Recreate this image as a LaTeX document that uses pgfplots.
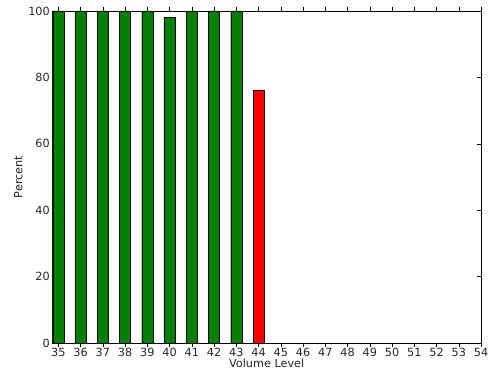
\documentclass[border=0pt]{standalone}
\usepackage{fontspec}
\setmainfont{DejaVu Sans}
\usepackage{pgfplots}
\pgfplotsset{compat=1.18}
\definecolor{mgreen}{rgb}{0,0.5,0}
\begin{document}
\begin{tikzpicture}
\path[use as bounding box] (0,0) rectangle (489bp,371bp);
\begin{axis}[
  at={(52.3bp,28bp)}, anchor=south west,
  scale only axis, width=428.7bp, height=332bp,
  xmin=34.73, xmax=54, ymin=0, ymax=100,
  xtick={35,...,54}, ytick={0,20,...,100},
  tick align=inside, tick pos=both,
  major tick length=4bp,
  minor tick num=0,
  /pgf/number format/assume math mode=true,
  tick label style={font=\fontsize{11.3}{13}\selectfont, text=black!85},
  label style={font=\fontsize{11.3}{13}\selectfont, text=black!85},
  xlabel={Volume Level}, ylabel={Percent},
  xlabel style={yshift=5bp},
  ylabel style={yshift=-1bp},
  xticklabel style={yshift=2bp},
  yticklabel style={xshift=1bp},
  axis line style={black, line width=0.6pt},
  every tick/.style={black, line width=0.5pt},
  ybar, bar width=0.5, bar shift=0pt,
]
\addplot[fill=mgreen, draw=black, line width=0.4pt] coordinates {
(35,100) (36,100) (37,100) (38,100) (39,100) (40,98) (41,100) (42,100) (43,100)};
\addplot[fill=red, draw=black, line width=0.4pt] coordinates {(44,76)};
\end{axis}
\end{tikzpicture}
\end{document}
